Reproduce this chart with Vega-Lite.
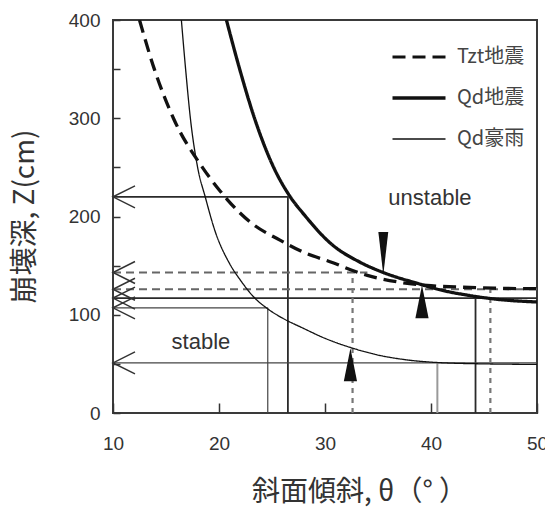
{
  "$schema": "https://vega.github.io/schema/vega-lite/v6.json",
  "width": 424,
  "height": 393,
  "autosize": {"type": "none"},
  "padding": {"left": 113, "top": 20, "right": 8, "bottom": 95},
  "background": "white",
  "config": {
    "view": {"stroke": "#3a3a3a", "strokeWidth": 2},
    "font": "Liberation Sans"
  },
  "datasets": {
    "curves": [
      {"series": "Tzt地震", "theta": 12.5, "z": 400},
      {"series": "Tzt地震", "theta": 13.9, "z": 350},
      {"series": "Tzt地震", "theta": 15.7, "z": 300},
      {"series": "Tzt地震", "theta": 18.5, "z": 249},
      {"series": "Tzt地震", "theta": 20.1, "z": 226},
      {"series": "Tzt地震", "theta": 20.8, "z": 217},
      {"series": "Tzt地震", "theta": 23.1, "z": 193},
      {"series": "Tzt地震", "theta": 25.75, "z": 176},
      {"series": "Tzt地震", "theta": 28.1, "z": 163},
      {"series": "Tzt地震", "theta": 30.75, "z": 153},
      {"series": "Tzt地震", "theta": 32.6, "z": 145},
      {"series": "Tzt地震", "theta": 34.0, "z": 140},
      {"series": "Tzt地震", "theta": 37.1, "z": 133},
      {"series": "Tzt地震", "theta": 40.0, "z": 129.5},
      {"series": "Tzt地震", "theta": 43.0, "z": 128},
      {"series": "Tzt地震", "theta": 46.0, "z": 127},
      {"series": "Tzt地震", "theta": 50.0, "z": 126.5},
      {"series": "Qd地震", "theta": 20.7, "z": 400},
      {"series": "Qd地震", "theta": 21.95, "z": 350},
      {"series": "Qd地震", "theta": 23.35, "z": 300},
      {"series": "Qd地震", "theta": 25.2, "z": 249},
      {"series": "Qd地震", "theta": 26.6, "z": 222},
      {"series": "Qd地震", "theta": 28.1, "z": 201},
      {"series": "Qd地震", "theta": 30.6, "z": 172},
      {"series": "Qd地震", "theta": 33.3, "z": 153.5},
      {"series": "Qd地震", "theta": 35.5, "z": 143},
      {"series": "Qd地震", "theta": 38.7, "z": 132},
      {"series": "Qd地震", "theta": 41.0, "z": 125},
      {"series": "Qd地震", "theta": 43.4, "z": 120},
      {"series": "Qd地震", "theta": 46.0, "z": 116},
      {"series": "Qd地震", "theta": 50.0, "z": 113},
      {"series": "Qd豪雨", "theta": 16.45, "z": 400},
      {"series": "Qd豪雨", "theta": 16.85, "z": 350},
      {"series": "Qd豪雨", "theta": 17.3, "z": 300},
      {"series": "Qd豪雨", "theta": 18.0, "z": 249},
      {"series": "Qd豪雨", "theta": 18.7, "z": 220},
      {"series": "Qd豪雨", "theta": 19.6, "z": 186},
      {"series": "Qd豪雨", "theta": 21.0, "z": 152},
      {"series": "Qd豪雨", "theta": 22.0, "z": 135.5},
      {"series": "Qd豪雨", "theta": 23.2, "z": 119},
      {"series": "Qd豪雨", "theta": 24.6, "z": 106},
      {"series": "Qd豪雨", "theta": 26.0, "z": 96.5},
      {"series": "Qd豪雨", "theta": 27.8, "z": 87},
      {"series": "Qd豪雨", "theta": 30.0, "z": 76},
      {"series": "Qd豪雨", "theta": 32.6, "z": 66},
      {"series": "Qd豪雨", "theta": 35.0, "z": 59},
      {"series": "Qd豪雨", "theta": 37.4, "z": 54.5},
      {"series": "Qd豪雨", "theta": 40.4, "z": 51.5},
      {"series": "Qd豪雨", "theta": 45.0, "z": 50},
      {"series": "Qd豪雨", "theta": 50.0, "z": 49.5}
    ],
    "guides": [
      {"kind": "solid", "theta": 10, "theta2": 26.5, "z": 220, "z2": 220},
      {"kind": "solid", "theta": 26.5, "theta2": 26.5, "z": 0, "z2": 220},
      {"kind": "solid", "theta": 10, "theta2": 50, "z": 117, "z2": 117},
      {"kind": "solid", "theta": 44.2, "theta2": 44.2, "z": 0, "z2": 117},
      {"kind": "thin", "theta": 10, "theta2": 24.6, "z": 107, "z2": 107},
      {"kind": "thin", "theta": 24.6, "theta2": 24.6, "z": 0, "z2": 107},
      {"kind": "thin", "theta": 10, "theta2": 50, "z": 51, "z2": 51},
      {"kind": "gray", "theta": 40.6, "theta2": 40.6, "z": 0, "z2": 51},
      {"kind": "hdash", "theta": 10, "theta2": 34, "z": 143, "z2": 143},
      {"kind": "hdash", "theta": 10, "theta2": 50, "z": 126, "z2": 126},
      {"kind": "vdash", "theta": 32.6, "theta2": 32.6, "z": 0, "z2": 143},
      {"kind": "vdash", "theta": 45.6, "theta2": 45.6, "z": 0, "z2": 126}
    ],
    "arrows": [
      {"theta": 10, "z": 220},
      {"theta": 10, "z": 143},
      {"theta": 10, "z": 126},
      {"theta": 10, "z": 117},
      {"theta": 10, "z": 107},
      {"theta": 10, "z": 51}
    ],
    "wedges": [
      {"dir": "down", "theta": 35.5, "z": 140.5},
      {"dir": "up", "theta": 39.15, "z": 130},
      {"dir": "up", "theta": 32.4, "z": 66}
    ],
    "notes": [
      {"label": "unstable", "theta": 39.9, "z": 219},
      {"label": "stable", "theta": 18.3, "z": 72}
    ]
  },
  "encoding": {
    "x": {
      "field": "theta", "type": "quantitative",
      "scale": {"domain": [10, 50], "nice": false, "zero": false},
      "axis": {
        "values": [10, 20, 30, 40, 50],
        "grid": false, "domain": false,
        "tickSize": -10, "tickWidth": 1.5, "tickColor": "#333",
        "labelFontSize": 19, "labelColor": "#333", "labelPadding": 31,
        "labelFlush": false, "labelOverlap": false, "labelBound": false,
        "title": "斜面傾斜, θ（° ）",
        "titleFont": "Noto Sans CJK JP", "titleFontSize": 28, "titleFontWeight": "normal",
        "titleColor": "#333", "titleX": 246, "titleY": 79,
        "titleAlign": "center", "titleBaseline": "middle"
      }
    },
    "y": {
      "field": "z", "type": "quantitative",
      "scale": {"domain": [0, 400], "nice": false},
      "axis": {
        "values": [0, 50, 100, 150, 200, 250, 300, 350, 400],
        "labelExpr": "datum.value % 100 === 0 ? datum.label : ''",
        "grid": false, "domain": false,
        "tickSize": -7, "tickWidth": 1.5, "tickColor": "#333",
        "labelFontSize": 19, "labelColor": "#333", "labelPadding": 20,
        "labelFlush": false, "labelOverlap": false, "labelBound": false,
        "title": "崩壊深, Z(cm)",
        "titleFont": "Noto Sans CJK JP", "titleFontSize": 28, "titleFontWeight": "normal",
        "titleColor": "#333", "titleX": -88, "titleY": 196,
        "titleAlign": "center", "titleBaseline": "middle", "titleAngle": -90
      }
    }
  },
  "layer": [
    {
      "data": {"name": "guides"},
      "transform": [{"filter": "datum.kind === 'solid'"}],
      "mark": {"type": "rule", "color": "#2a2a2a", "strokeWidth": 1.8},
      "encoding": {"x2": {"field": "theta2"}, "y2": {"field": "z2"}}
    },
    {
      "data": {"name": "guides"},
      "transform": [{"filter": "datum.kind === 'thin'"}],
      "mark": {"type": "rule", "color": "#444", "strokeWidth": 1.2},
      "encoding": {"x2": {"field": "theta2"}, "y2": {"field": "z2"}}
    },
    {
      "data": {"name": "guides"},
      "transform": [{"filter": "datum.kind === 'gray'"}],
      "mark": {"type": "rule", "color": "#999", "strokeWidth": 2},
      "encoding": {"x2": {"field": "theta2"}, "y2": {"field": "z2"}}
    },
    {
      "data": {"name": "guides"},
      "transform": [{"filter": "datum.kind === 'hdash'"}],
      "mark": {"type": "rule", "color": "#666", "strokeWidth": 2, "strokeDash": [8, 5]},
      "encoding": {"x2": {"field": "theta2"}, "y2": {"field": "z2"}}
    },
    {
      "data": {"name": "guides"},
      "transform": [{"filter": "datum.kind === 'vdash'"}],
      "mark": {"type": "rule", "color": "#777", "strokeWidth": 2.2, "strokeDash": [5, 5]},
      "encoding": {"x2": {"field": "theta2"}, "y2": {"field": "z2"}}
    },
    {
      "data": {"name": "curves"},
      "mark": {"type": "line", "color": "#111", "clip": true, "interpolate": "monotone"},
      "encoding": {
        "strokeDash": {
          "field": "series", "type": "nominal",
          "scale": {"domain": ["Tzt地震", "Qd地震", "Qd豪雨"], "range": [[13, 7], [1, 0], [1, 0]]},
          "legend": {
            "orient": "none", "legendX": 296, "legendY": 27, "title": null,
            "symbolType": "stroke", "symbolSize": 2809, "symbolStrokeColor": "#111",
            "labelFont": "Noto Sans CJK JP", "labelFontSize": 20, "labelColor": "#444",
            "labelOffset": 28, "rowPadding": 21, "padding": 0,
            "encode": {
              "symbols": {
                "update": {
                  "strokeWidth": {"signal": "datum.label === 'Qd豪雨' ? 1.3 : (datum.label === 'Qd地震' ? 3.6 : 3.2)"}
                }
              }
            }
          }
        },
        "strokeWidth": {
          "condition": {"test": "datum.series === 'Qd豪雨'", "value": 1.3},
          "value": 3.3
        }
      }
    },
    {
      "data": {"name": "arrows"},
      "mark": {"type": "point", "shape": "M1,-0.5L0,0L1,0.5", "size": 1936, "filled": false, "stroke": "#333", "strokeWidth": 1.5, "opacity": 1}
    },
    {
      "data": {"name": "wedges"},
      "transform": [{"filter": "datum.dir === 'down'"}],
      "mark": {"type": "point", "shape": "M0,0L-0.23,-2L0.23,-2Z", "size": 1849, "filled": true, "color": "#111", "opacity": 1}
    },
    {
      "data": {"name": "wedges"},
      "transform": [{"filter": "datum.dir === 'up'"}],
      "mark": {"type": "point", "shape": "M0,0L-0.4,2L0.4,2Z", "size": 1089, "filled": true, "color": "#111", "opacity": 1}
    },
    {
      "data": {"name": "notes"},
      "mark": {"type": "text", "fontSize": 22, "color": "#333", "align": "center", "baseline": "middle"},
      "encoding": {"text": {"field": "label"}}
    }
  ]
}
